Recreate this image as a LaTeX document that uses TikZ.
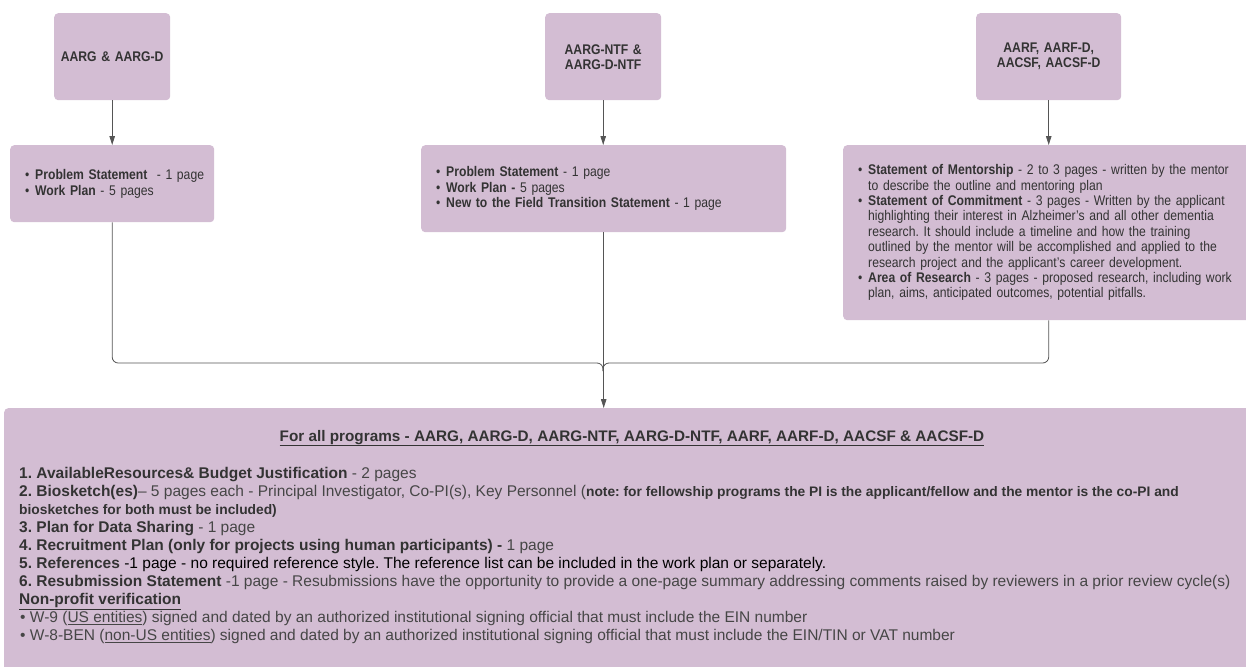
\documentclass[tikz,border=0pt]{standalone}
\usepackage{fontspec}
\setmainfont{Liberation Sans}
\newfontfamily\cond{Liberation Sans}[FakeStretch=0.87]
\usepackage{xcolor}
\usetikzlibrary{arrows.meta}
\frenchspacing

\definecolor{boxfill}{HTML}{D3BDD3}
\definecolor{ink}{HTML}{333333}
\definecolor{inklight}{HTML}{464646}
\definecolor{linkgray}{HTML}{555555}

\newcommand{\bul}{\makebox[10pt][l]{\textbullet}}
\newcommand{\ind}{\hspace*{10pt}}

\tikzset{
    titlebox/.style={fill=boxfill, rounded corners=4pt, anchor=north west,
        minimum width=116pt, minimum height=87pt, text width=110pt, inner sep=3pt,
        align=center, text=ink, font=\cond\bfseries\fontsize{14}{15}\selectfont},
    listbox/.style={fill=boxfill, rounded corners=4pt, anchor=north west,
        inner xsep=15pt, inner ysep=0pt, align=left, text=ink,
        font=\cond\fontsize{14}{15.4}\selectfont},
    plaintext/.style={inner sep=0pt, text=ink, font=\fontsize{15.5}{18}\selectfont},
    link/.style={draw=linkgray, line width=0.8pt, rounded corners=6pt},
    arrow/.style={link, -{Triangle[length=9pt,width=5.5pt]}},
}

\begin{document}
\begin{tikzpicture}[x=1pt, y=-1pt]
    \useasboundingbox (0,0) rectangle (1246,666);

    % program titles
    \node[titlebox] (tA) at (54,13) {AARG \& AARG-D};
    \node[titlebox] (tB) at (545,13) {AARG-NTF \&\\AARG-D-NTF};
    \node[titlebox, minimum width=145pt, text width=139pt] (tC) at (976,13)
        {AARF, AARF-D,\\AACSF, AACSF-D};

    % program specific documents
    \node[listbox, minimum width=204pt, text width=174pt, minimum height=77pt] (dA) at (10,145)
        {\mbox{\bul\textbf{Problem Statement}~ - 1 page}\\
         \bul\textbf{Work Plan} - 5 pages};
    \node[listbox, minimum width=365pt, text width=335pt, minimum height=87pt] (dB) at (421,145)
        {\bul\textbf{Problem Statement} - 1 page\\
         \bul\textbf{Work Plan -} 5 pages\\
         \bul\textbf{New to the Field Transition Statement} - 1 page};
    \node[listbox, minimum width=420pt, text width=390pt, minimum height=175pt] (dC) at (843,145)
        {\bul\textbf{Statement of Mentorship} - 2 to 3 pages - written by the mentor\\
         \ind to describe the outline and mentoring plan\\
         \bul\textbf{Statement of Commitment} - 3 pages - Written by the applicant\\
         \ind highlighting their interest in Alzheimer’s and all other dementia\\
         \ind research. It should include a timeline and how the training\\
         \ind outlined by the mentor will be accomplished and applied to the\\
         \ind research project and the applicant’s career development.\\
         \bul\textbf{Area of Research} - 3 pages - proposed research, including work\\
         \ind plan, aims, anticipated outcomes, potential pitfalls.};

    % common documents
    \node[fill=boxfill, rounded corners=4pt, anchor=north west,
        minimum width=1260pt, minimum height=280pt] (all) at (4,408) {};
    \node[plaintext, anchor=base, font=\bfseries\fontsize{15.3}{18}\selectfont] (allhead) at (632,441)
        {\underline{For all programs - AARG, AARG-D, AARG-NTF, AARG-D-NTF, AARF, AARF-D, AACSF \& AACSF-D}};
    \node[plaintext, anchor=north west, align=left] (alllist) at (19,467)
        {\textbf{1. AvailableResources\& Budget Justification} \textcolor{inklight}{- 2 pages}\\
         \textbf{2. Biosketch(es)}\textcolor{inklight}{– 5 pages each - Principal Investigator, Co-PI(s), Key Personnel (}{\fontsize{13.8}{18}\selectfont\textbf{note: for fellowship programs the PI is the applicant/fellow and the mentor is the co-PI and}}\\
         {\fontsize{13.8}{18}\selectfont\textbf{biosketches for both must be included)}}\\
         \textbf{3. Plan for Data Sharing} \textcolor{inklight}{- 1 page}\\
         \textbf{4. Recruitment Plan (only for projects using human participants) -} \textcolor{inklight}{1 page}\\
         \textbf{5. References} \textcolor{black}{-1 page - no required reference style. The reference list can be included in the work plan or separately.}\\
         \textbf{6. Resubmission Statement} \textcolor{inklight}{-1 page - Resubmissions have the opportunity to provide a one-page summary addressing comments raised by reviewers in a prior review cycle(s)}\\
         \textbf{\underline{Non-profit verification}}\\
         \textcolor{inklight}{\hspace*{1pt}\textbullet{} W-9 (\underline{US entities}) signed and dated by an authorized institutional signing official that must include the EIN number}\\
         \textcolor{inklight}{\hspace*{1pt}\textbullet{} W-8-BEN (\underline{non-US entities}) signed and dated by an authorized institutional signing official that must include the EIN/TIN or VAT number}};

    % title -> documents
    \draw[arrow] (tA) -- (dA);
    \draw[arrow] (tB) -- (tB.south |- dB.north);
    \draw[arrow] (tC) -- (tC.south |- dC.north);

    % documents -> common documents
    \coordinate (merge) at (603,363);
    \draw[link] (dA.south) |- (merge) -- ++(0,8);
    \draw[link] (tC.south |- dC.south) |- (merge) -- ++(0,8);
    \draw[arrow] (dB.south) -- (dB.south |- all.north);
\end{tikzpicture}
\end{document}
